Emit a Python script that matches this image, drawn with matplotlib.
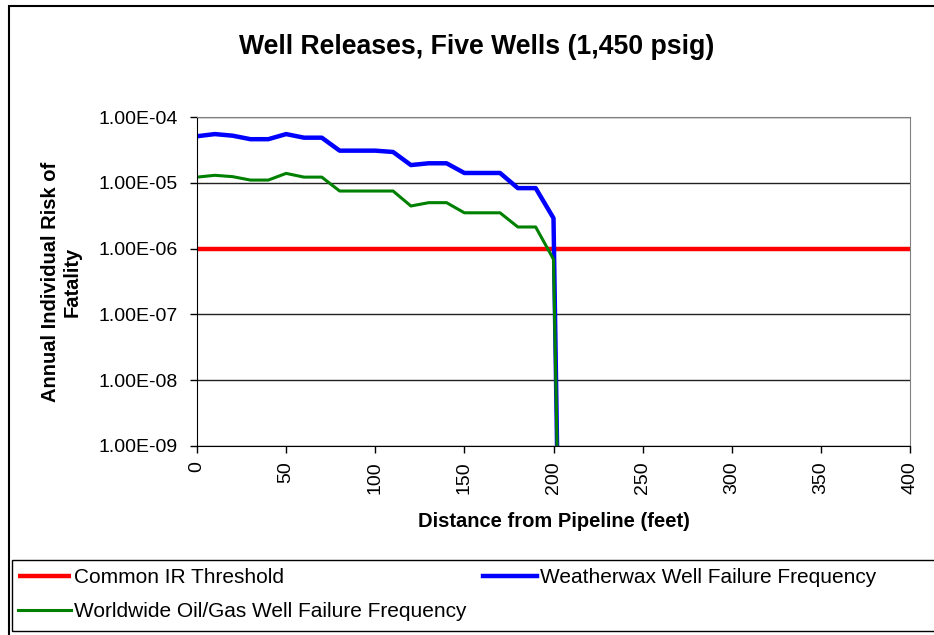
"""
    Well releases, five wells (1,450 psig) - individual risk vs distance
"""

import numpy as np
import matplotlib.pyplot as plt
from matplotlib.patches import Rectangle

plt.rcParams['font.family'] = ['Liberation Sans', 'DejaVu Sans']

# distances (feet)
distance = [0, 10, 20, 30, 40, 50, 60, 70, 80, 90, 100, 110, 120, 130, 140,
            150, 160, 170, 180, 190, 200, 202]
# Weatherwax well failure frequency
weatherwax = [5.1e-5, 5.5e-5, 5.2e-5, 4.6e-5, 4.6e-5, 5.5e-5, 4.85e-5, 4.85e-5,
              3.08e-5, 3.08e-5, 3.08e-5, 2.94e-5, 1.86e-5, 1.98e-5, 1.98e-5,
              1.41e-5, 1.41e-5, 1.41e-5, 8.3e-6, 8.3e-6, 2.9e-6, 1e-9]
# Worldwide oil/gas well failure frequency
worldwide = [1.22e-5, 1.3e-5, 1.24e-5, 1.1e-5, 1.1e-5, 1.39e-5, 1.22e-5, 1.22e-5,
             7.5e-6, 7.5e-6, 7.5e-6, 7.5e-6, 4.44e-6, 4.99e-6, 4.99e-6,
             3.5e-6, 3.5e-6, 3.5e-6, 2.13e-6, 2.13e-6, 6.9e-7, 1e-9]
threshold = 1e-6
yticks = [1e-9, 1e-8, 1e-7, 1e-6, 1e-5, 1e-4]
ytick_labels = ['1.00E-09', '1.00E-08', '1.00E-07', '1.00E-06', '1.00E-05', '1.00E-04']

W, H = 934, 635
fig = plt.figure(figsize=(W / 100, H / 100), dpi=100)
ax = fig.add_axes([197 / W, 1 - 446 / H, (910 - 197) / W, (446 - 117) / H])

l1, = ax.plot([0, 400], [threshold, threshold], color='#ff0000', lw=3.2,
              label='Common IR Threshold', solid_capstyle='butt')
l2, = ax.plot(distance, weatherwax, color='#0000ff', lw=3.2,
              label='Weatherwax Well Failure Frequency')
l3, = ax.plot(distance, worldwide, color='#008000', lw=2.2,
              label='Worldwide Oil/Gas Well Failure Frequency')

ax.set_yscale('log')
ax.set_ylim(1e-9, 1e-4)
ax.set_xlim(0, 400)
ax.set_yticks(yticks)
ax.set_yticklabels(ytick_labels)
ax.yaxis.set_minor_locator(plt.NullLocator())
ax.set_xticks(np.arange(0, 401, 50))
ax.tick_params(axis='x', labelrotation=90, pad=6)
ax.tick_params(axis='y', pad=9)
ax.tick_params(labelsize=14, direction='out', length=5, width=1, colors='black')
ax.grid(axis='y', color='#222222', lw=1)
ax.set_axisbelow(True)

for s in ['top', 'right']:
    ax.spines[s].set_color('#808080')
ax.spines['left'].set_color('black')
ax.spines['bottom'].set_color('black')

ax.set_xlabel('Distance from Pipeline (feet)', fontsize=14.5, fontweight='bold', labelpad=13)
ax.set_ylabel('Annual Individual Risk of\nFatality', fontsize=14.5, fontweight='bold',
              labelpad=12, linespacing=1.15)
fig.text(477 / W, 1 - 47 / H, 'Well Releases, Five Wells (1,450 psig)', fontsize=19.2,
         fontweight='bold', ha='center', va='center')

# cadre du graphique
fig.patches.append(Rectangle((9 / W, -0.01), (945 - 9) / W, 1 - 6 / H + 0.01,
                             transform=fig.transFigure, fill=False, ec='black', lw=1.5))
# cadre de la légende
fig.patches.append(Rectangle((12 / W, 1 - 631 / H), (945 - 12) / W, 71 / H,
                             transform=fig.transFigure, fill=False, ec='black', lw=1))

leg = fig.legend(handles=[l1, l3, l2], loc='upper left', ncol=2,
                 bbox_to_anchor=(18 / W, 1 - 568 / H),
                 fontsize=15, frameon=False,
                 handlelength=2.55, handletextpad=0.15, borderaxespad=0, borderpad=0,
                 labelspacing=0.72, columnspacing=0.8)

fig.savefig('out.png', dpi=100)
